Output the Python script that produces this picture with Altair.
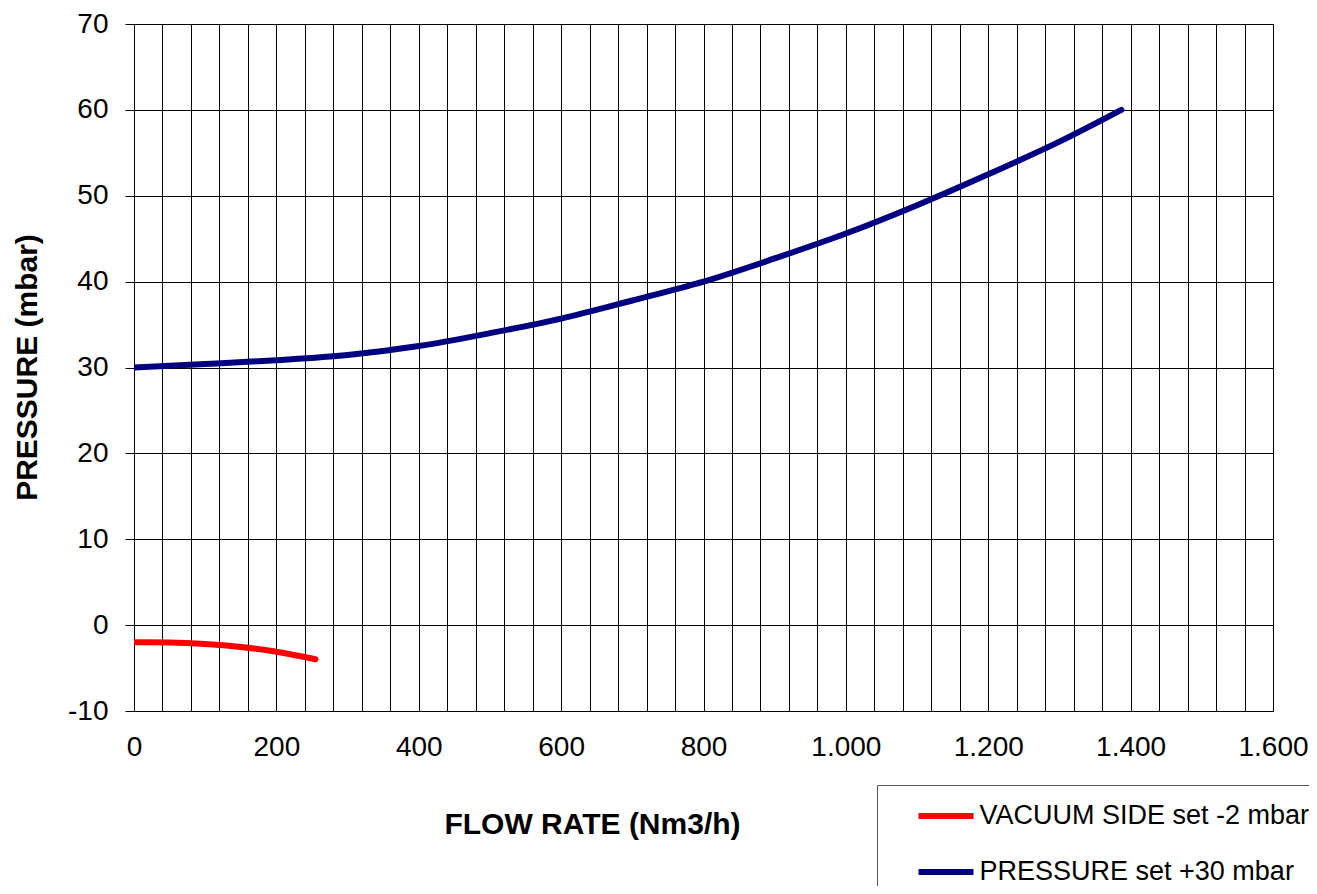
import altair as alt
import pandas as pd

# Data
vac_x = [0, 50, 100, 150, 200, 255]
vac_y = [-2.0, -2.03, -2.2, -2.55, -3.1, -3.97]

prs_x = [0, 100, 200, 300, 400, 500, 600, 700, 800, 900, 1000, 1100, 1200, 1300, 1387]
prs_y = [30.0, 30.4, 30.85, 31.45, 32.5, 34.0, 35.7, 37.8, 40.0, 42.7, 45.6, 48.9, 52.5, 56.3, 60.0]

series_names = ["VACUUM SIDE set -2 mbar", "PRESSURE set +30 mbar"]
series_colors = ["#FF0000", "#000080"]

x_grid = list(range(0, 1601, 40))
y_ticks = list(range(-10, 71, 10))

rows = []
for i, (x, y) in enumerate(zip(vac_x, vac_y)):
    rows.append({"flow": x, "pressure": y, "series": series_names[0], "order": i})
for i, (x, y) in enumerate(zip(prs_x, prs_y)):
    rows.append({"flow": x, "pressure": y, "series": series_names[1], "order": i})
df = pd.DataFrame(rows)

FONT = "Liberation Sans"

chart = alt.Chart(df).mark_line(
    strokeWidth=6, strokeCap="round", strokeJoin="round", interpolate="monotone", clip=True
).encode(
    x=alt.X(
        "flow:Q",
        scale=alt.Scale(domain=[0, 1600], nice=False, zero=False),
        axis=alt.Axis(
            values=x_grid,
            labelExpr="datum.value % 200 == 0 ? replace(format(datum.value, ','), ',', '.') : ''",
            labelOverlap=False,
            labelFlush=False,
            ticks=False,
            tickSize=0,
            domain=False,
            grid=True,
            gridColor="#000000",
            gridWidth=1,
            gridOpacity=1,
            labelFont=FONT,
            labelFontSize=28,
            labelColor="#000000",
            labelPadding=22,
            title="FLOW RATE (Nm3/h)",
            titleFont=FONT,
            titleFontSize=30,
            titleFontWeight="bold",
            titleColor="#000000",
            titleX=458,
            titleY=122,
            titleAlign="center",
            titleBaseline="alphabetic",
        ),
    ),
    y=alt.Y(
        "pressure:Q",
        scale=alt.Scale(domain=[-10, 70], nice=False, zero=False),
        axis=alt.Axis(
            values=y_ticks,
            labelExpr="'' + datum.value",
            ticks=True,
            tickSize=9,
            tickColor="#000000",
            tickWidth=1,
            domain=False,
            grid=True,
            gridColor="#000000",
            gridWidth=1,
            gridOpacity=1,
            labelFont=FONT,
            labelFontSize=28,
            labelColor="#000000",
            labelPadding=17,
            title="PRESSURE (mbar)",
            titleFont=FONT,
            titleFontSize=30,
            titleFontWeight="bold",
            titleColor="#000000",
            titleX=-107,
            titleY=343,
            titleAngle=270,
            titleAlign="center",
            titleBaseline="middle",
        ),
    ),
    color=alt.Color(
        "series:N",
        scale=alt.Scale(domain=series_names, range=series_colors),
        sort=series_names,
        legend=alt.Legend(
            title=None,
            orient="none",
            legendX=743,
            legendY=761,
            direction="vertical",
            symbolType="stroke",
            symbolSize=3025,
            symbolStrokeWidth=6,
            symbolOffset=38,
            labelOffset=3,
            labelFont=FONT,
            labelFontSize=27,
            labelColor="#000000",
            labelLimit=0,
            padding=0.5,
            rowPadding=12,
            strokeColor="#555555",
        ),
    ),
    order="order:Q",
).properties(
    width=1139,
    height=687,
    autosize=alt.AutoSizeParams(type="none"),
    padding={"left": 126, "top": 16, "right": 36, "bottom": 175},
).configure_view(
    stroke="#000000",
    strokeWidth=3,
).configure_legend(
    strokeWidth=1,
).configure(background="#ffffff")

chart.save("out.html", embed_options={"renderer": "svg", "actions": False})
